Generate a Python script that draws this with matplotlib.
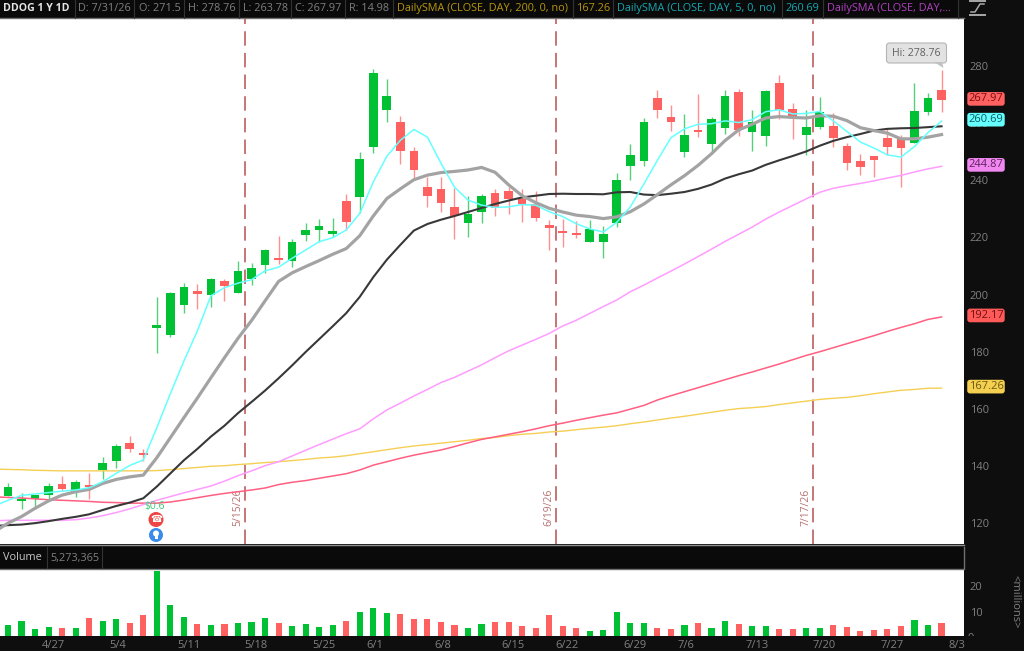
import numpy as np
import matplotlib
matplotlib.use('Agg')
import matplotlib.pyplot as plt
from matplotlib.patches import Circle, FancyBboxPatch, Polygon, Rectangle

plt.rcParams['font.family'] = ['Open Sans', 'DejaVu Sans']

# daily candles, one value per bar
opens = [129.6, 127.8, 128.3, 129.8, 133.8, 130.8, 133.3, 138.6, 141.7, 148.2,
         144.4, 188.2, 185.8, 196.5, 201.1, 199.8, 204.9, 200.4, 205.3, 210.5,
         212.7, 211.9, 220.9, 222.7, 221.3, 232.9, 234.0, 251.8, 264.5, 260.5,
         250.4, 237.6, 236.9, 230.8, 225.2, 228.9, 235.6, 236.2, 233.3, 231.6,
         224.4, 222.3, 221.4, 218.3, 218.3, 225.2, 245.0, 246.7, 268.8, 262.0,
         249.9, 257.6, 252.6, 258.3, 270.8, 256.9, 255.5, 274.2, 265.0, 255.8,
         258.6, 258.9, 252.0, 246.9, 248.5, 254.7, 254.9, 252.9, 263.8, 271.5]
highs = [134.0, 130.6, 130.0, 134.2, 136.5, 135.1, 137.4, 143.2, 147.7, 150.5,
         145.9, 199.0, 200.8, 204.0, 203.6, 205.8, 205.6, 211.7, 211.0, 216.0,
         220.6, 219.6, 225.0, 226.4, 226.7, 235.2, 250.0, 279.0, 275.3, 262.6,
         251.5, 241.3, 241.0, 237.2, 234.6, 235.2, 237.0, 237.7, 236.9, 236.2,
         226.2, 226.3, 225.8, 226.2, 224.0, 242.4, 252.7, 261.7, 271.6, 266.3,
         263.2, 270.2, 262.2, 271.6, 272.0, 264.6, 271.6, 277.0, 267.2, 264.6,
         269.0, 263.7, 252.9, 249.2, 248.5, 258.0, 255.8, 273.9, 270.4, 278.76]
lows = [129.6, 124.9, 124.9, 128.4, 131.1, 129.0, 128.4, 135.5, 139.2, 144.9,
        141.7, 179.7, 185.2, 193.4, 195.0, 195.8, 197.7, 200.4, 203.2, 207.4,
        210.7, 209.7, 218.9, 218.5, 220.0, 222.6, 228.7, 249.4, 260.4, 245.7,
        240.7, 230.8, 228.9, 219.3, 220.0, 224.9, 227.6, 228.2, 225.5, 225.8,
        215.6, 216.5, 219.7, 218.3, 212.8, 223.8, 240.1, 245.0, 261.7, 257.2,
        248.0, 255.0, 249.9, 256.2, 255.5, 250.1, 252.0, 261.3, 254.6, 248.7,
        257.8, 251.8, 243.6, 242.0, 241.3, 248.8, 237.8, 252.9, 262.8, 263.78]
closes = [132.7, 128.6, 130.0, 133.0, 131.9, 134.4, 132.5, 140.9, 147.1, 145.9,
          144.0, 189.2, 200.4, 202.8, 200.2, 205.6, 203.0, 208.2, 209.3, 215.5,
          212.1, 218.5, 222.6, 224.0, 222.4, 225.5, 247.6, 277.7, 269.5, 250.4,
          243.6, 234.4, 232.0, 227.5, 228.1, 234.5, 230.2, 233.3, 231.6, 226.9,
          223.2, 221.4, 220.7, 222.9, 221.2, 240.1, 248.8, 260.5, 264.6, 260.3,
          255.8, 257.0, 261.3, 269.5, 257.6, 260.5, 271.2, 264.6, 262.0, 258.8,
          263.8, 254.9, 245.9, 244.6, 247.1, 251.8, 251.2, 264.4, 268.8, 267.97]

# volume in millions, with the colour of each bar
volumes = [4.9, 6.4, 3.3, 4.1, 3.7, 3.7, 7.6, 6.4, 7.2, 5.6,
           8.8, 26.0, 12.5, 8.0, 5.2, 4.9, 5.2, 5.6, 6.0, 7.6,
           5.6, 4.5, 5.2, 4.1, 4.9, 6.4, 9.9, 11.3, 9.5, 9.1,
           7.2, 7.2, 6.0, 4.9, 3.7, 5.2, 6.0, 6.0, 4.5, 3.7,
           8.8, 4.5, 3.7, 2.6, 2.9, 9.9, 5.6, 5.6, 3.7, 3.3,
           4.9, 5.6, 3.7, 6.4, 5.2, 4.5, 4.5, 3.3, 3.3, 3.7,
           3.7, 4.9, 4.1, 2.6, 2.9, 3.3, 4.5, 6.8, 4.9, 5.6]
volume_up = [1, 1, 1, 1, 0, 1, 0, 1, 1, 0,
             0, 1, 1, 1, 0, 1, 0, 1, 1, 1,
             0, 1, 1, 1, 1, 0, 1, 1, 1, 0,
             0, 0, 0, 0, 1, 1, 0, 0, 0, 0,
             0, 0, 0, 1, 1, 1, 1, 1, 0, 0,
             1, 0, 1, 1, 0, 1, 1, 0, 0, 1,
             1, 0, 0, 0, 0, 0, 0, 1, 1, 0]

# moving averages, the first value sits one bar left of the first candle
sma5 = [126.0, 128.0, 129.7, 130.2, 130.7, 131.2, 131.6, 132.4, 134.5, 137.4, 140.2,
        142.1, 153.4, 165.3, 176.7, 187.3, 199.6, 202.4, 204.0, 205.2, 208.3,
        209.6, 212.7, 215.6, 218.5, 219.9, 222.6, 228.4, 239.4, 248.4, 254.0,
        257.8, 255.1, 246.0, 237.6, 233.1, 231.3, 230.5, 230.7, 231.5, 231.3,
        229.0, 227.3, 224.8, 223.0, 221.9, 225.3, 230.7, 238.7, 247.0, 254.9,
        258.0, 259.6, 259.8, 260.8, 260.2, 261.2, 264.0, 264.7, 263.2, 263.4,
        264.1, 260.8, 257.1, 253.4, 251.3, 248.9, 248.1, 251.8, 256.7, 260.69]
sma10 = [117.0, 120.0, 122.3, 125.2, 127.8, 129.8, 131.0, 131.8, 133.9, 135.3, 136.2,
         136.8, 142.9, 149.9, 156.9, 163.8, 170.9, 177.9, 184.7, 190.9, 197.8,
         204.6, 207.6, 209.8, 211.9, 214.1, 216.1, 220.6, 227.5, 233.6, 237.0,
         240.2, 241.8, 242.7, 243.1, 243.6, 244.5, 242.8, 238.4, 234.6, 232.2,
         230.2, 228.9, 227.8, 227.3, 226.6, 227.2, 229.0, 231.7, 235.0, 238.4,
         241.6, 245.2, 249.3, 253.9, 257.6, 259.6, 261.8, 262.3, 262.0, 261.8,
         262.6, 262.4, 260.9, 258.4, 257.4, 256.5, 254.5, 254.5, 255.1, 256.0]
sma20 = [119.0, 119.3, 119.5, 120.0, 120.7, 121.5, 122.2, 123.1, 124.6, 126.0, 127.2,
         128.7, 132.8, 137.4, 142.0, 146.0, 150.3, 154.1, 158.5, 162.4, 166.4,
         170.7, 175.2, 179.9, 184.4, 188.9, 193.5, 199.2, 206.1, 212.2, 217.4,
         222.4, 224.7, 226.2, 227.5, 228.9, 230.3, 231.7, 232.9, 234.0, 234.6,
         235.2, 235.3, 235.2, 235.2, 235.1, 235.8, 235.9, 235.0, 234.8, 235.3,
         235.9, 237.0, 238.5, 240.6, 242.1, 243.4, 245.4, 247.0, 248.5, 250.1,
         252.1, 253.8, 255.1, 256.2, 257.4, 258.0, 258.2, 258.3, 258.6, 258.9]
sma50 = [120.8, 121.0, 121.0, 121.0, 121.0, 121.0, 121.2, 121.8, 122.6, 123.7, 125.0,
         126.5, 128.0, 129.3, 130.6, 131.8, 133.0, 134.7, 136.6, 138.3, 140.1,
         141.5, 143.5, 145.5, 147.5, 149.4, 151.3, 153.0, 156.5, 159.6, 162.0,
         164.5, 166.8, 169.2, 171.0, 173.2, 175.4, 177.9, 180.3, 182.3, 184.3,
         186.4, 189.0, 191.0, 193.4, 195.8, 198.1, 201.0, 203.3, 205.8, 208.2,
         210.7, 213.3, 215.9, 218.6, 221.1, 223.6, 226.4, 228.9, 231.2, 233.5,
         235.8, 237.2, 238.1, 238.9, 239.8, 240.8, 241.7, 242.9, 244.0, 244.87]
sma100 = [129.2, 129.0, 128.8, 128.5, 128.2, 128.0, 127.8, 127.6, 127.3, 127.2, 127.0,
          127.0, 127.0, 127.4, 128.1, 128.9, 129.7, 130.4, 131.0, 131.6, 132.3,
          133.5, 134.3, 134.9, 135.7, 136.5, 137.3, 138.6, 140.3, 141.5, 142.7,
          143.8, 144.7, 145.6, 146.8, 148.1, 149.3, 150.2, 151.1, 152.0, 153.0,
          154.1, 155.0, 156.0, 156.9, 157.8, 158.6, 159.9, 161.2, 163.1, 164.6,
          166.0, 167.4, 168.8, 170.2, 171.6, 172.9, 174.3, 175.7, 177.2, 178.7,
          180.0, 181.4, 182.8, 184.2, 185.6, 187.1, 188.5, 189.8, 191.3, 192.17]
sma200 = [138.9, 138.8, 138.7, 138.5, 138.4, 138.3, 138.3, 138.3, 138.3, 138.3, 138.3,
          138.3, 138.4, 138.7, 139.1, 139.5, 139.9, 140.1, 140.5, 140.8, 141.2,
          141.5, 141.9, 142.3, 142.8, 143.1, 143.6, 144.3, 145.0, 145.7, 146.4,
          147.0, 147.5, 148.0, 148.5, 149.0, 149.6, 150.0, 150.6, 151.1, 151.4,
          151.9, 152.2, 152.7, 153.2, 153.6, 154.1, 154.8, 155.4, 156.1, 156.8,
          157.4, 158.1, 158.8, 159.5, 160.1, 160.4, 160.8, 161.5, 162.1, 162.7,
          163.3, 163.7, 164.0, 164.6, 165.3, 165.9, 166.5, 166.8, 167.2, 167.26]

price_ticks = [120, 140, 160, 180, 200, 220, 240, 260, 280]
volume_ticks = [10, 20]
date_idx = [3, 8, 13, 18, 23, 27, 32, 37, 41, 46, 50, 55, 60, 65, 70]
date_labels = ['4/27', '5/4', '5/11', '5/18', '5/25', '6/1', '6/8', '6/15',
               '6/22', '6/29', '7/6', '7/13', '7/20', '7/27', '8/3']
event_idx = [17.5, 40.5, 59.5]
event_labels = ['5/15/26', '6/19/26', '7/17/26']
price_tags = [(267.97, '#FF6060', '#7A1010'), (260.69, '#66FFFF', '#0A5A60'),
              (244.87, '#F088F0', '#602060'), (192.17, '#FF5A5A', '#701010'),
              (167.26, '#F5CF50', '#6A5A10')]

W, H = 1024, 651
GREEN, RED = '#00C034', '#FF6060'
TXT = '#808080'


def panel(x0, y0, x1, y1):
    return fig.add_axes([x0 / W, 1 - y1 / H, (x1 - x0) / W, (y1 - y0) / H])


fig = plt.figure(figsize=(W / 100, H / 100), dpi=100, facecolor='#0E0E0E')
ax = panel(0, 18, 964, 544)
ax_vol = panel(0, 568.5, 964, 635.5)

bars = np.arange(len(closes))
line_x = np.arange(-1, len(closes))
opens_a, closes_a = np.array(opens), np.array(closes)
up = closes_a >= opens_a
colors = np.where(up, GREEN, RED)

ax.set_xlim(-0.59, 70.66)
ax.set_ylim(112.7, 296.8)
ax.vlines(event_idx, 112.7, 296.8, color='#C26A6A', lw=1.3, ls=(0, (8, 4)), zorder=1)
for xi, lab in zip(event_idx, event_labels):
    ax.annotate(lab, xy=(xi, 0), xycoords=('data', 'axes fraction'), xytext=(-5.2, 13),
                textcoords='offset points', rotation=90, ha='center', va='bottom',
                fontsize=7.5, color='#B87070')

ax.vlines(bars, lows, highs, colors=np.where(up, '#55CF78', '#FF8F8F'), lw=1.0, zorder=2)
ax.bar(bars, np.abs(closes_a - opens_a), bottom=np.minimum(opens_a, closes_a), width=0.64,
       color=colors, zorder=3)

ax.plot(line_x, sma200, color='#F5CF55', lw=1.0, zorder=4)
ax.plot(line_x, sma100, color='#FF5F80', lw=1.1, zorder=4)
ax.plot(line_x, sma50, color='#FF9CFF', lw=1.1, zorder=4)
ax.plot(line_x, sma20, color='#383838', lw=1.5, zorder=5)
ax.plot(line_x, sma10, color='#A3A3A3', lw=2.3, zorder=5)
ax.plot(line_x, sma5, color='#66FFFF', lw=1.1, zorder=6)

ax.yaxis.tick_right()
ax.set_yticks(price_ticks)
ax.set_xticks([])
ax.tick_params(axis='y', length=0, pad=4, labelsize=8, labelcolor=TXT)

ax_vol.bar(bars, volumes, width=0.45, color=np.where(np.array(volume_up) == 1, GREEN, RED))
ax_vol.set_xlim(-0.59, 70.66)
ax_vol.set_ylim(0.7, 26.8)
ax_vol.yaxis.tick_right()
ax_vol.set_yticks(volume_ticks)
ax_vol.set_xticks([])
ax_vol.tick_params(axis='y', length=0, pad=4, labelsize=8, labelcolor=TXT)
for xi, lab in zip(date_idx, date_labels):
    ax_vol.annotate(lab, xy=(xi, 0), xycoords=('data', 'axes fraction'), xytext=(-5, -7),
                    textcoords='offset points', ha='left', va='center', fontsize=8,
                    color=TXT, annotation_clip=False)

for a in (ax, ax_vol):
    for s in a.spines.values():
        s.set_visible(False)

# everything around the plot goes on a full-size overlay in pixel units
ov = fig.add_axes([0, 0, 1, 1], facecolor='none')
ov.set_xlim(0, W)
ov.set_ylim(H, 0)
ov.axis('off')

# header strip
ov.add_patch(Rectangle((0, 0), 958, 18, fc='#0A0A0A', ec='none'))
ov.plot([0, 964], [18, 18], color='#707070', lw=1)
header = [(3, 'DDOG 1 Y 1D', '#E4E4E4', 'bold', 7.6), (78, 'D: 7/31/26', TXT, 'normal', 7.8),
          (139, 'O: 271.5', TXT, 'normal', 7.8), (188, 'H: 278.76', TXT, 'normal', 7.8),
          (243, 'L: 263.78', TXT, 'normal', 7.8), (295, 'C: 267.97', TXT, 'normal', 7.8),
          (349, 'R: 14.98', TXT, 'normal', 7.8),
          (397, 'DailySMA (CLOSE, DAY, 200, 0, no)', '#B8960C', 'normal', 7.8),
          (577, '167.26', '#B8960C', 'normal', 7.8),
          (617, 'DailySMA (CLOSE, DAY, 5, 0, no)', '#17A7B0', 'normal', 7.8),
          (786, '260.69', '#17A7B0', 'normal', 7.8),
          (827, 'DailySMA (CLOSE, DAY,...', '#B040C0', 'normal', 7.8)]
for x, s, c, w, fs in header:
    ov.text(x, 8.5, s, color=c, fontsize=fs, fontweight=w, va='center', ha='left')
for x in [75, 134, 184, 239, 291, 345, 393, 573, 613, 782, 823, 958]:
    ov.plot([x, x], [0, 18], color='#333333', lw=0.8)

# toolbar glyph top right
ov.plot([970, 985], [1, 1], color='#A8A8A8', lw=1.4)
ov.plot([970, 985], [15, 15], color='#A8A8A8', lw=1.4)
ov.plot([971, 975, 980, 984], [12, 12, 4, 4], color='#A8A8A8', lw=1.1)

# volume strip
ov.add_patch(Rectangle((0, 547), 964, 21.5, fc='#0A0A0A', ec='none'))
ov.plot([0, 964], [544.5, 544.5], color='#909090', lw=1)
ov.plot([0, 964, 964], [568.5, 568.5, 547], color='#707070', lw=1)
ov.text(3, 558, 'Volume', color='#C8C8C8', fontsize=7.8, va='center')
ov.text(50, 558, '5,273,365', color=TXT, fontsize=7.8, va='center')
ov.plot([47, 47], [547, 568], color='#333333', lw=0.8)
ov.plot([102, 102], [547, 568], color='#333333', lw=0.8)
ov.text(1015, 602, '<millions>', color=TXT, fontsize=8, rotation=-90, ha='center', va='center')

# the zero of the volume scale is cut off by the date row
zero = ov.text(968, 638.5, '0', color=TXT, fontsize=8, ha='left', va='center')
zero.set_clip_path(Rectangle((960, 625), 30, 11, transform=ov.transData))
zero.set_clip_on(True)

# price tags on the right edge
for value, fc, tc in price_tags:
    y_tag = ax.transData.transform((0, value))[1]
    ov.text(986, H - y_tag - 1.5, f'{value:.2f}', color=tc, fontsize=8, ha='center', va='center',
            bbox=dict(boxstyle='round,pad=0.12,rounding_size=0.25', fc=fc, ec='none'), zorder=8)

# earnings markers and high bubble
ov.text(155, 507, '$0.6', color='#3CC878', fontsize=7.5, ha='center', va='center')
ov.add_patch(Circle((156, 519.5), 7.5, fc='#EE4444', ec='none'))
ov.text(156, 519.5, '\u260E', color='white', fontsize=7, ha='center', va='center', family='DejaVu Sans')
ov.add_patch(Circle((156, 535), 7, fc='#3B8BEA', ec='none'))
ov.add_patch(Circle((156, 533.5), 3, fc='white', ec='none'))
ov.add_patch(Rectangle((154.5, 536), 3, 3, fc='white', ec='none'))

ov.add_patch(FancyBboxPatch((889, 45.5), 55, 15, boxstyle='round,pad=2.5,rounding_size=3',
                            fc='#E2E2E2', ec='#B5B5B5', lw=0.8))
ov.add_patch(Polygon([(934, 62), (942, 62), (943.5, 68)], closed=True, fc='#C0C0C0', ec='none'))
ov.text(916, 53, 'Hi: 278.76', color='#606060', fontsize=7.6, ha='center', va='center')

fig.savefig('out.png', dpi=100, facecolor=fig.get_facecolor())
